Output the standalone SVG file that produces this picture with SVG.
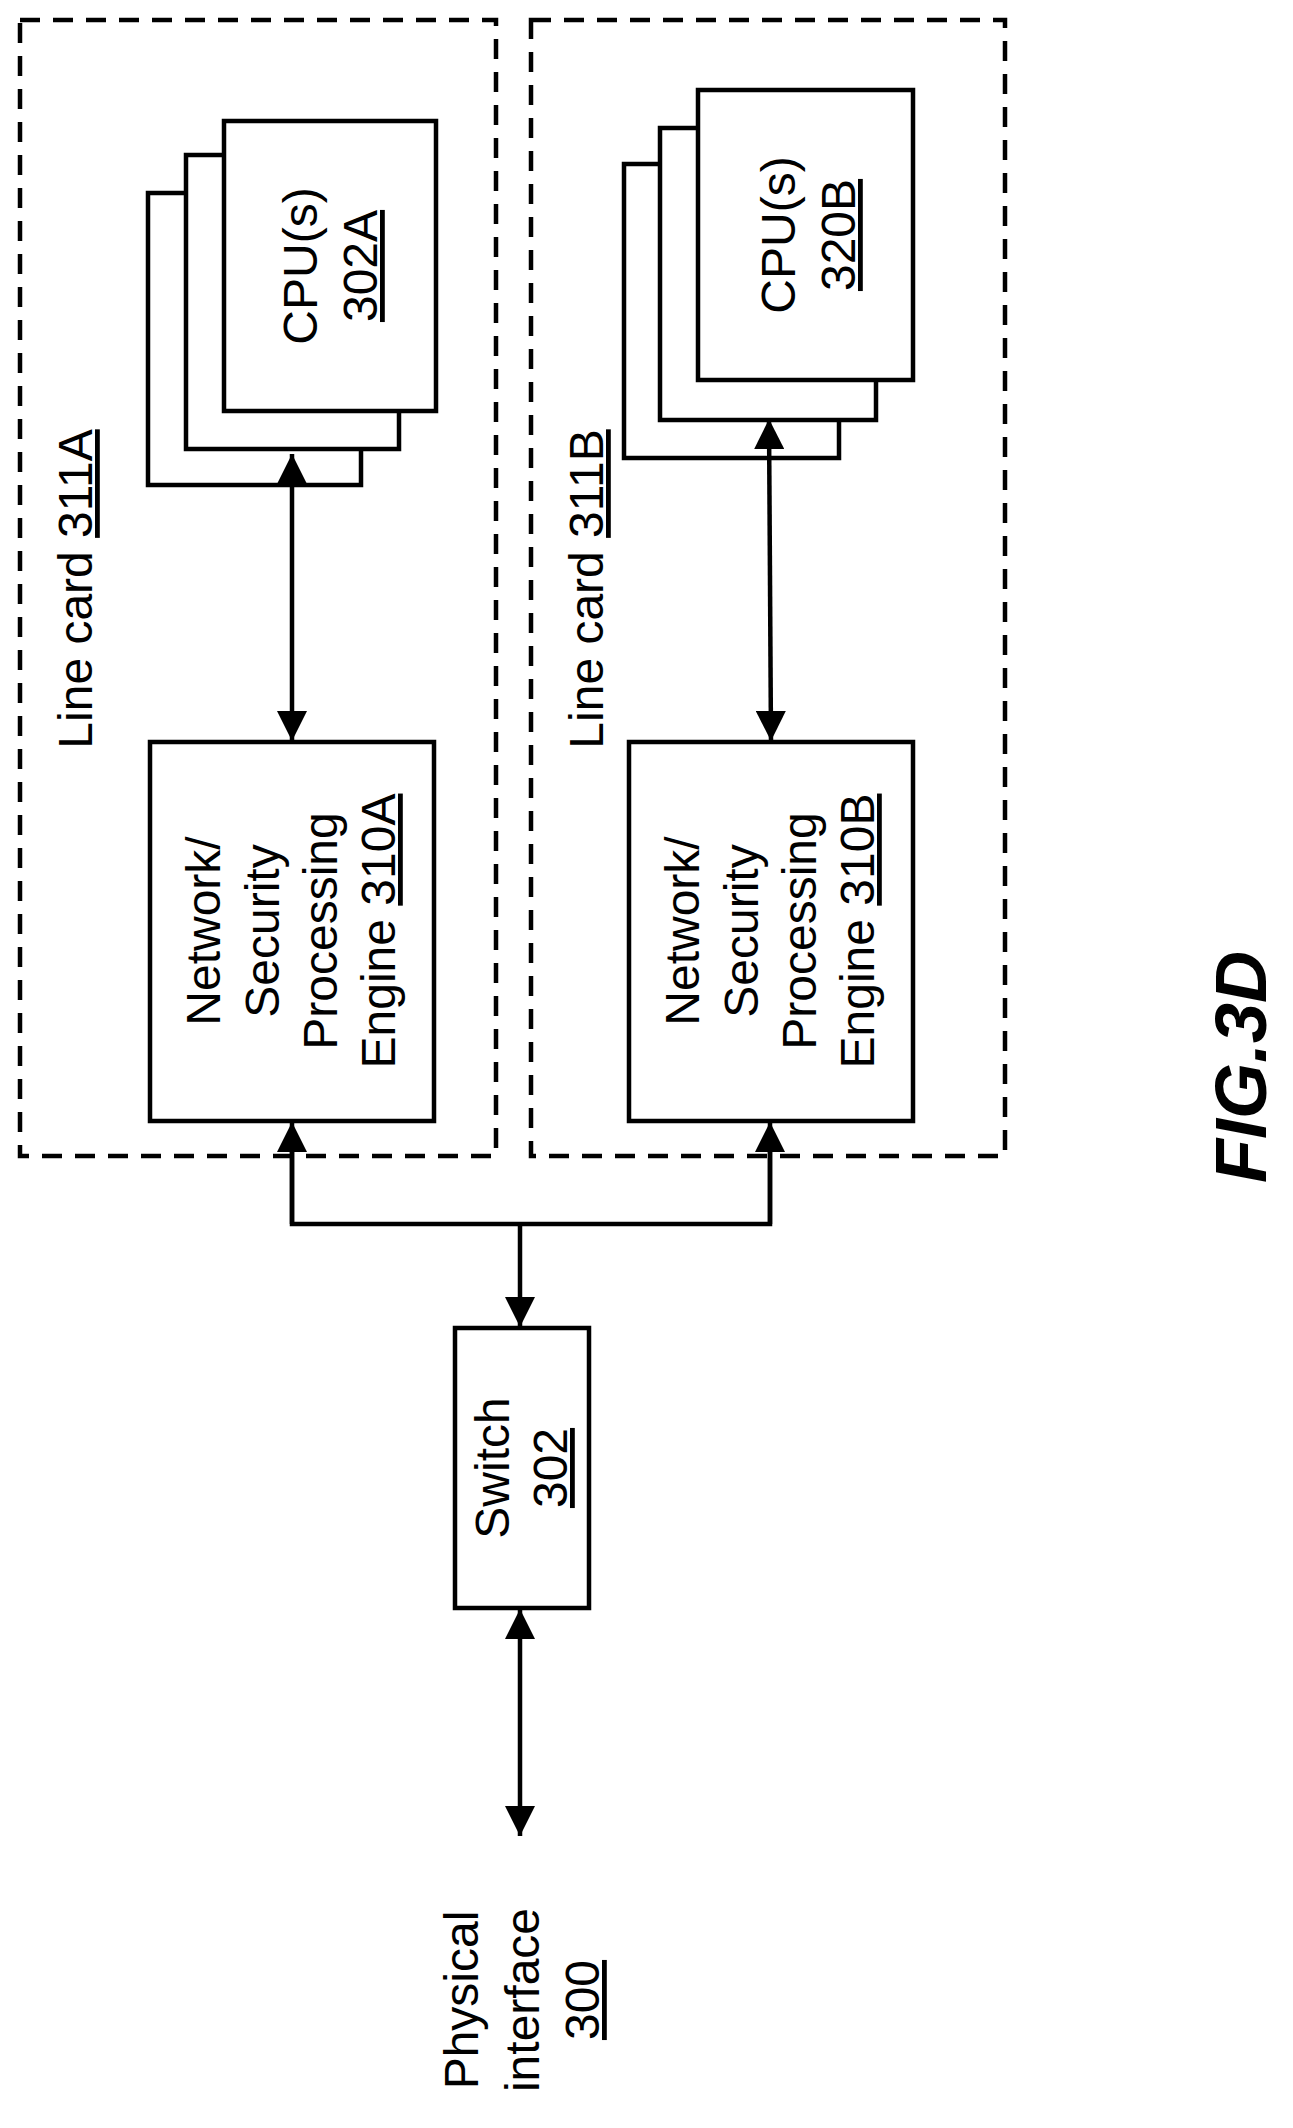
<svg xmlns="http://www.w3.org/2000/svg" width="1293" height="2128" viewBox="0 0 1293 2128">
<style>
.b{fill:#fff;stroke:#000;stroke-width:4.5}
.d{fill:none;stroke:#000;stroke-width:4.5;stroke-dasharray:20 13}
.c{fill:none;stroke:#000;stroke-width:4.5}
text{font-family:"Liberation Sans",Arial,sans-serif;font-size:48px;text-anchor:middle;fill:#000}
.u{text-decoration:underline}
</style>
<defs><marker id="ah" viewBox="0 0 10 10" refX="10" refY="5" markerWidth="44" markerHeight="30" markerUnits="userSpaceOnUse" orient="auto-start-reverse"><path d="M0,0 L10,5 L0,10 z" fill="#000"/></marker></defs>
<rect width="1293" height="2128" fill="#fff"/>
<g id="linecardA"><rect class="d" x="20" y="20" width="476" height="1136"/><text transform="translate(92,589) rotate(-90)">Line card <tspan class="u">311A</tspan></text></g>
<g id="linecardB"><rect class="d" x="531" y="20" width="474" height="1136"/><text transform="translate(603,589) rotate(-90)">Line card <tspan class="u">311B</tspan></text></g>
<g id="cpuA"><rect class="b" x="148" y="193" width="213" height="292"/><rect class="b" x="186" y="155" width="213" height="294"/><rect class="b" x="224" y="121" width="212" height="290"/>
<text transform="translate(317,266) rotate(-90)">CPU(s)</text><text transform="translate(377,266) rotate(-90)"><tspan class="u">302A</tspan></text></g>
<g id="cpuB"><rect class="b" x="624" y="164" width="215" height="294"/><rect class="b" x="660" y="128" width="216" height="292"/><rect class="b" x="698" y="90" width="215" height="290"/>
<text transform="translate(795,235) rotate(-90)">CPU(s)</text><text transform="translate(855,235) rotate(-90)"><tspan class="u">320B</tspan></text></g>
<g id="nspeA"><rect class="b" x="150" y="742" width="284" height="379"/>
<text transform="translate(220,931) rotate(-90)">Network/</text><text transform="translate(279,931) rotate(-90)">Security</text><text transform="translate(337,931) rotate(-90)">Processing</text><text transform="translate(395,931) rotate(-90)">Engine <tspan class="u">310A</tspan></text></g>
<g id="nspeB"><rect class="b" x="629" y="742" width="284" height="379"/>
<text transform="translate(699,931) rotate(-90)">Network/</text><text transform="translate(758,931) rotate(-90)">Security</text><text transform="translate(816,931) rotate(-90)">Processing</text><text transform="translate(874,931) rotate(-90)">Engine <tspan class="u">310B</tspan></text></g>
<g id="switch"><rect class="b" x="455" y="1328" width="134" height="280"/><text transform="translate(509,1468) rotate(-90)">Switch</text><text transform="translate(567,1468) rotate(-90)"><tspan class="u">302</tspan></text></g>
<g id="physical"><text transform="translate(478,2000) rotate(-90)">Physical</text><text transform="translate(539,2000) rotate(-90)">interface</text><text transform="translate(599,2000) rotate(-90)"><tspan class="u">300</tspan></text></g>
<g id="fig"><text transform="translate(1266,1067) rotate(-90)" style="font-weight:bold;font-style:italic;font-size:72px">FIG.3D</text></g>
<g id="connectors">
<line class="c" x1="292" y1="454" x2="292" y2="741" marker-start="url(#ah)" marker-end="url(#ah)"/>
<line class="c" x1="769" y1="419" x2="771" y2="741" marker-start="url(#ah)" marker-end="url(#ah)"/>
<polyline class="c" points="292,1140 292,1224 770,1224 770,1140"/>
<line class="c" x1="292" y1="1224" x2="292" y2="1122" marker-end="url(#ah)"/>
<line class="c" x1="770" y1="1224" x2="770" y2="1122" marker-end="url(#ah)"/>
<line class="c" x1="520" y1="1224" x2="520" y2="1327" marker-end="url(#ah)"/>
<line class="c" x1="520" y1="1609" x2="520" y2="1836" marker-start="url(#ah)" marker-end="url(#ah)"/>
</g>
</svg>
